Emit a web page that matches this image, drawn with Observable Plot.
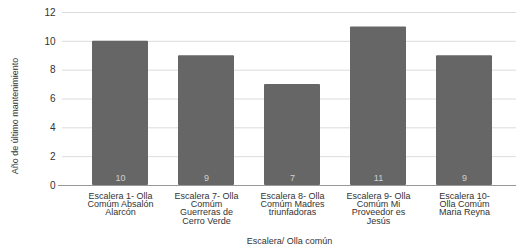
<!DOCTYPE html>
<html>
<head>
<meta charset="utf-8">
<script src="https://cdn.jsdelivr.net/npm/d3@7"></script>
<script src="https://cdn.jsdelivr.net/npm/@observablehq/plot@0.6"></script>
<style>
  html, body { margin: 0; padding: 0; background: #fff; }
</style>
</head>
<body>
<div id="chart"></div>
<script>
const categories = [
  "Escalera 1- Olla Comúm Absalón Alarcón",
  "Escalera 7- Olla Comúm Guerreras de Cerro Verde",
  "Escalera 8- Olla Comúm Madres triunfadoras",
  "Escalera 9- Olla Comúm Mi Proveedor es Jesús",
  "Escalera 10- Olla Comúm Maria Reyna"
];
const categoryLabels = [
  "Escalera 1- Olla\nComúm Absalón\nAlarcón",
  "Escalera 7- Olla\nComúm\nGuerreras de\nCerro Verde",
  "Escalera 8- Olla\nComúm Madres\ntriunfadoras",
  "Escalera 9- Olla\nComúm Mi\nProveedor es\nJesús",
  "Escalera 10-\nOlla Comúm\nMaria Reyna"
];
const values = [10, 9, 7, 11, 9];
const yTicks = [0, 2, 4, 6, 8, 10, 12];
const xTitle = "Escalera/ Olla común";
const yTitle = "Año de último mantenimiento";

const data = categories.map((c, i) => ({category: c, value: values[i]}));
const labelOf = new Map(categories.map((c, i) => [c, categoryLabels[i]]));

const chart = Plot.plot({
  width: 518,
  height: 245,
  marginLeft: 62,
  marginRight: 2,
  marginTop: 12,
  marginBottom: 60,
  style: {fontFamily: "'Liberation Sans', Arial, sans-serif", fontSize: "10px", color: "#333", background: "#fff"},
  x: {domain: categories, paddingInner: 0.35, paddingOuter: 0.175, insetLeft: 15, insetRight: 9},
  y: {domain: [0, 12]},
  marks: [
    Plot.gridY(yTicks, {stroke: "#dcdcdc", strokeOpacity: 1, strokeWidth: 1}),
    Plot.axisY(yTicks, {tickSize: 0, tickPadding: 7, label: null, fontSize: 10}),
    Plot.axisX({
      tickSize: 0, tickPadding: 8, fontSize: 9, lineHeight: 0.9,
      tickFormat: d => labelOf.get(d),
      label: xTitle, labelAnchor: "center", labelOffset: 58
    }),
    Plot.barY(data, {x: "category", y: "value", fill: "#666666", rx: 1}),
    Plot.ruleY([0], {stroke: "#999", insetLeft: -4}),
    Plot.text(data, {x: "category", y: 0, text: d => String(d.value), dy: -7.5, fill: "#d0d0d0", fontSize: 9}),
    Plot.text([yTitle], {frameAnchor: "left", textAnchor: "middle", rotate: -90, dx: -47, dy: 17, fontSize: 9, fill: "#333"})
  ]
});
document.getElementById("chart").appendChild(chart);
</script>
</body>
</html>
